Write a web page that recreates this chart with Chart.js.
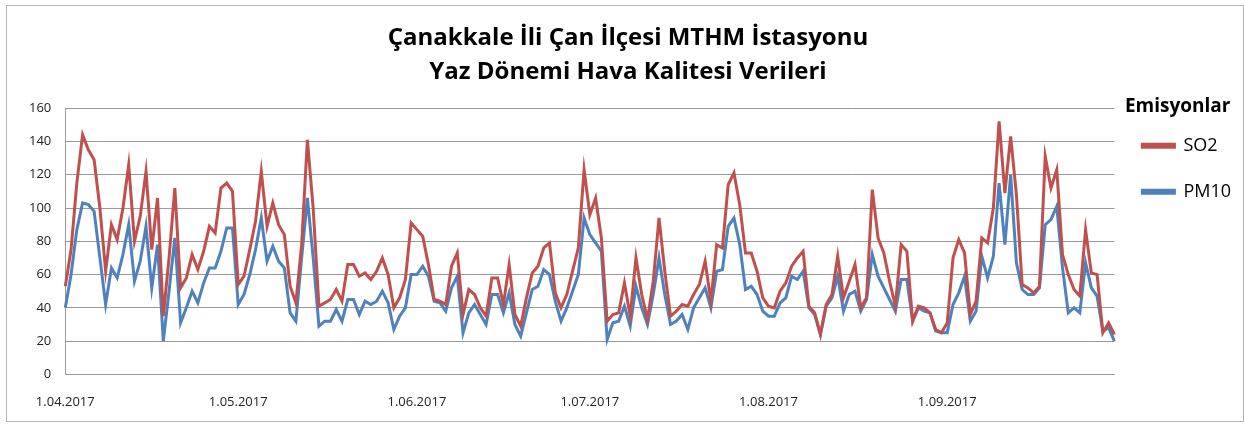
<!DOCTYPE html>
<html>
<head>
    <meta charset="UTF-8">
    <title>Çan MTHM Hava Kalitesi</title>
    <script src="https://cdn.jsdelivr.net/npm/chart.js"></script>
    <style>
        body { margin: 0; background: #fff; }
        #kutu { position: relative; width: 1244px; height: 425px; }
        #cerceve { position: absolute; left: 6px; top: 5px; width: 1236px; height: 415px;
                   border: 1px solid #b4b4b4; pointer-events: none; }
    </style>
</head>
<body>
    <div id="kutu">
        <canvas id="grafik" width="1244" height="425"></canvas>
        <div id="cerceve"></div>
    </div>

    <script>
        // gunluk degerler, 1.04.2017 - 30.09.2017
        const so2 = [
            53, 75, 115, 144, 135, 129, 100, 62, 90, 81, 100, 126, 80, 95, 122, 75, 106, 35, 70, 112,
            52, 58, 72, 63, 74, 89, 85, 112, 115, 110, 54, 59, 75, 92, 122, 89, 103, 90, 84, 53,
            43, 78, 141, 100, 41, 43, 45, 51, 44, 66, 66, 59, 61, 57, 62, 70, 60, 40, 46, 57,
            91, 87, 83, 66, 45, 44, 42, 65, 73, 36, 51, 48, 40, 35, 58, 58, 42, 66, 36, 29,
            46, 61, 65, 76, 79, 49, 40, 48, 62, 76, 123, 96, 106, 82, 32, 36, 37, 55, 35, 70,
            48, 33, 56, 94, 62, 35, 38, 42, 41, 48, 54, 68, 44, 78, 76, 114, 121, 102, 73, 73,
            62, 46, 41, 40, 50, 55, 65, 70, 74, 41, 37, 24, 42, 48, 71, 46, 56, 66, 40, 46,
            111, 82, 73, 56, 41, 78, 74, 32, 41, 40, 37, 27, 25, 31, 70, 81, 73, 36, 44, 82,
            79, 100, 152, 109, 143, 108, 54, 52, 49, 53, 131, 112, 123, 72, 60, 51, 47, 87, 61, 60,
            25, 31, 24
        ];
        const pm10 = [
            40, 60, 87, 103, 102, 98, 70, 42, 64, 58, 72, 90, 56, 68, 89, 52, 78, 20, 50, 82,
            31, 40, 50, 43, 55, 64, 64, 74, 88, 88, 42, 48, 60, 75, 94, 68, 77, 68, 64, 37,
            32, 70, 106, 70, 29, 32, 32, 39, 32, 45, 45, 36, 44, 42, 44, 50, 43, 27, 35, 40,
            60, 60, 65, 59, 44, 43, 38, 52, 59, 25, 37, 42, 36, 30, 48, 48, 37, 49, 30, 23,
            37, 51, 53, 63, 60, 44, 32, 40, 50, 60, 94, 84, 79, 74, 21, 31, 32, 41, 29, 53,
            40, 30, 48, 70, 48, 30, 32, 36, 27, 40, 46, 52, 40, 62, 63, 89, 94, 78, 51, 53,
            48, 38, 35, 35, 43, 46, 59, 57, 62, 40, 36, 24, 41, 46, 59, 38, 48, 50, 38, 45,
            72, 59, 52, 45, 38, 57, 57, 32, 40, 38, 37, 26, 25, 25, 42, 49, 59, 32, 38, 71,
            58, 71, 115, 78, 120, 67, 51, 48, 48, 52, 90, 93, 101, 64, 37, 40, 37, 67, 52, 47,
            26, 28, 20
        ];
        const ayBaslari = ["1.04.2017", "1.05.2017", "1.06.2017", "1.07.2017", "1.08.2017", "1.09.2017"];

        // tarih etiketleri
        const tarihler = [];
        const bas = new Date(2017, 3, 1);
        for (let i = 0; i < so2.length; i++) {
            const g = new Date(bas.getFullYear(), bas.getMonth(), bas.getDate() + i);
            tarihler.push(g.getDate() + "." + String(g.getMonth() + 1).padStart(2, "0") + "." + g.getFullYear());
        }

        const yazi = "'Open Sans'";
        const gri = "#9a9a9a";

        new Chart(document.getElementById("grafik"), {
            type: "line",
            data: {
                labels: tarihler,
                datasets: [
                    { label: "SO2", data: so2, borderColor: "#c0504d", backgroundColor: "#c0504d",
                      borderWidth: 3, pointRadius: 0, tension: 0 },
                    { label: "PM10", data: pm10, borderColor: "#4f81bd", backgroundColor: "#4f81bd",
                      borderWidth: 3, pointRadius: 0, tension: 0 }
                ]
            },
            options: {
                responsive: false,
                animation: false,
                layout: { padding: { left: 15, right: 3, top: 0, bottom: 13 } },
                plugins: {
                    title: {
                        display: true,
                        text: ["Çanakkale İli Çan İlçesi MTHM İstasyonu", "Yaz Dönemi Hava Kalitesi Verileri"],
                        color: "#000",
                        font: { family: yazi, size: 24, weight: "bold", lineHeight: 1.42 },
                        padding: { top: 21, bottom: 19 }
                    },
                    legend: {
                        position: "right",
                        align: "start",
                        title: {
                            display: true,
                            text: "Emisyonlar",
                            color: "#000",
                            font: { family: yazi, size: 19, weight: "bold" },
                            padding: { top: 97, bottom: -11 }
                        },
                        labels: {
                            boxWidth: 32,
                            boxHeight: 3,
                            padding: 28,
                            color: "#000",
                            font: { family: yazi, size: 18 }
                        }
                    },
                    tooltip: { enabled: false }
                },
                scales: {
                    x: {
                        grid: { display: false, tickLength: 18 },
                        border: { display: true, color: gri },
                        ticks: {
                            autoSkip: false,
                            maxRotation: 0,
                            padding: 2,
                            color: "#222",
                            font: { family: yazi, size: 13 },
                            callback: function (v, i) {
                                const t = tarihler[i];
                                return ayBaslari.includes(t) ? t : "";
                            }
                        }
                    },
                    y: {
                        min: 0,
                        max: 160,
                        grid: { color: gri, drawTicks: false },
                        border: { display: true, color: gri },
                        ticks: {
                            stepSize: 20,
                            padding: 14,
                            color: "#222",
                            font: { family: yazi, size: 13 }
                        }
                    }
                }
            }
        });
    </script>
</body>
</html>
